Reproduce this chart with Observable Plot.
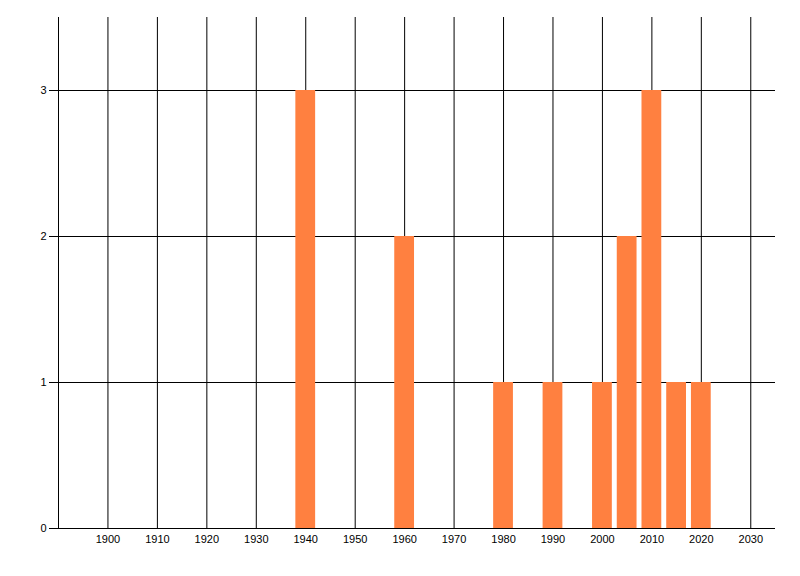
<!DOCTYPE html>
<html>
<head>
<meta charset="utf-8">
<script src="https://cdn.jsdelivr.net/npm/d3@7"></script>
<script src="https://cdn.jsdelivr.net/npm/@observablehq/plot@0.6"></script>
<style>
  body { margin: 0; background: #fff; }
  #chart svg { display: block; }
</style>
</head>
<body>
<div id="chart"></div>
<script>
const years = [1940, 1960, 1980, 1990, 2000, 2005, 2010, 2015, 2020];
const counts = [3, 2, 1, 1, 1, 2, 3, 1, 1];
const xTicks = d3.range(1900, 2031, 10);
const yTicks = [0, 1, 2, 3];

const data = years.map((y, i) => ({year: y, count: counts[i]}));

const chart = Plot.plot({
  width: 800,
  height: 576,
  marginLeft: 58,
  marginRight: 25,
  marginTop: 17,
  marginBottom: 48,
  style: {fontFamily: "'Liberation Sans', Arial, sans-serif", fontSize: "11px", color: "black", background: "white"},
  x: {domain: [1890, 2035], ticks: xTicks, tickFormat: d => String(d), label: null},
  y: {domain: [0, 3.5], ticks: yTicks, tickFormat: d => String(d), label: null},
  marks: [
    Plot.gridX(xTicks, {stroke: "black", strokeOpacity: 1}),
    Plot.gridY(yTicks.filter(d => d > 0), {stroke: "black", strokeOpacity: 1}),
    Plot.rectY(data, {x1: d => d.year - 2, x2: d => d.year + 2, y: "count", fill: "#ff8040"}),
    Plot.ruleX([1890], {stroke: "black"}),
    Plot.ruleY([0], {stroke: "black"}),
    Plot.axisX(xTicks, {tickSize: 0, tickPadding: 7, label: null, tickFormat: d => String(d)}),
    Plot.axisY(yTicks, {tickSize: 9, tickPadding: 3, label: null, tickFormat: d => String(d)})
  ]
});

d3.select('#chart').append(() => chart);
</script>
</body>
</html>
